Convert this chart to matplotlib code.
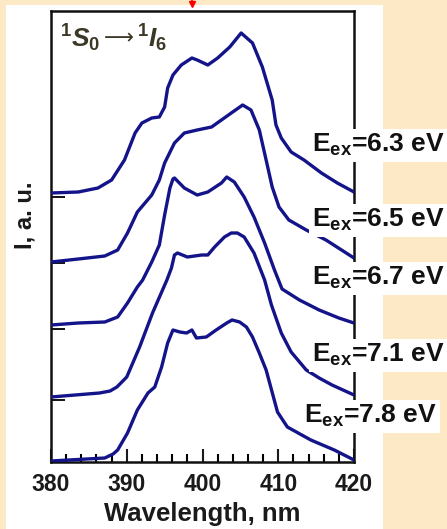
#!/usr/bin/env python3
"""
Luminescence spectra of the 1S0 -> 1I6 transition for several excitation
energies, stacked with a vertical offset.
"""
import matplotlib
matplotlib.use("Agg")
import matplotlib.pyplot as plt
from matplotlib.patches import Rectangle
from matplotlib.lines import Line2D
from matplotlib.ticker import MultipleLocator

# excitation energies (eV), top to bottom
energies = ["6.3", "6.5", "6.7", "7.1", "7.8"]

# vertical offset of every spectrum (a. u.)
offsets = [265, 199, 133, 62, 0]

# spectra: wavelength (nm) and intensity above baseline
wl_63 = [380, 383.6, 386.2, 388.0, 389.7, 391.1, 392.0, 393.3, 394.3, 395.0,
         395.4, 396.1, 397.2, 398.6, 399.3, 400.7, 402.0, 403.6, 405.1, 406.6,
         407.9, 409.2, 409.7, 410.4, 411.7, 413.4, 415.7, 417.8, 420]
i_63 = [4, 5, 9, 17, 37, 64, 74, 79, 80, 90,
        109, 122, 132, 139, 137, 132, 139, 150, 164, 154,
        130, 97, 72, 59, 45, 37, 24, 14, 5]

wl_65 = [380, 383.6, 387.1, 388.8, 390.1, 391.4, 393.3, 394.3, 395.0, 396.3,
         397.6, 399.3, 401.2, 402.5, 403.8, 405.3, 406.4, 407.5, 408.4, 409.2,
         410.1, 411.4, 413.7, 416.3, 420]
i_65 = [1, 4, 7, 13, 30, 51, 68, 83, 100, 120,
        130, 133, 136, 143, 150, 158, 153, 133, 103, 76,
        56, 43, 33, 23, 5]

wl_67 = [380, 383.6, 387.1, 388.8, 390.1, 391.4, 392.1, 393.3, 394.3, 395.0,
         395.7, 396.1, 396.3, 397.6, 399.3, 400.7, 402.5, 403.2, 404.2, 405.5,
         406.8, 408.2, 409.5, 410.5, 412.8, 415.4, 418.0, 420]
i_67 = [4, 6, 7, 12, 26, 42, 49, 67, 84, 114,
        141, 150, 151, 141, 134, 137, 146, 152, 147, 132,
        112, 86, 59, 40, 29, 19, 11, 6]

wl_71 = [380, 386.4, 387.8, 388.7, 390.0, 391.7, 393.4, 395.3, 395.9, 396.3,
         396.7, 398.0, 399.9, 400.7, 401.6, 402.9, 403.8, 404.6, 405.5, 406.8,
         408.2, 409.1, 410.4, 411.7, 413.7, 415.4, 417.1, 420]
i_71 = [3, 7, 9, 13, 23, 53, 87, 120, 132, 145,
        147, 143, 145, 145, 153, 163, 167, 167, 163, 147,
        120, 95, 67, 48, 30, 22, 15, 5]

wl_78 = [380, 387.1, 388.2, 388.8, 390.1, 391.4, 392.8, 393.7, 394.6, 395.4,
         396.1, 397.0, 397.9, 398.6, 399.2, 400.5, 401.8, 403.2, 403.9, 404.9,
         405.8, 406.6, 407.5, 408.4, 409.9, 411.2, 414.3, 417.4, 420]
i_78 = [1, 4, 8, 12, 29, 52, 69, 75, 95, 119,
        132, 130, 129, 132, 124, 125, 132, 139, 142, 140,
        135, 125, 109, 92, 50, 35, 22, 12, 2]

wavelengths = [wl_63, wl_65, wl_67, wl_71, wl_78]
intensities = [i_63, i_65, i_67, i_71, i_78]

# label baselines in figure pixels (from top) and right edges
label_base = [152, 227, 285, 362, 423]
label_right = [445, 445, 445, 445, 437]


def main():
    W, H = 447, 529
    plt.rcParams["font.family"] = ["Liberation Sans", "DejaVu Sans"]
    plt.rcParams["font.weight"] = "bold"
    plt.rcParams["mathtext.fontset"] = "custom"
    plt.rcParams["mathtext.rm"] = "Liberation Sans:bold"
    plt.rcParams["mathtext.it"] = "Liberation Sans:italic:bold"
    plt.rcParams["mathtext.bf"] = "Liberation Sans:bold"

    fig = plt.figure(figsize=(W / 100, H / 100), dpi=100, facecolor="#fde9c5")
    # white slide panel behind the chart
    fig.add_artist(Rectangle((6 / W, 0), 377 / W, 524 / H, transform=fig.transFigure,
                             facecolor="white", edgecolor="none", zorder=0))
    # little red pointer at the top edge
    fig.add_artist(Line2D([192 / W, 192 / W], [1.0, 1 - 4 / H], color="red", lw=1.2,
                          transform=fig.transFigure))
    fig.add_artist(Line2D([192 / W], [1 - 4 / H], marker="v", ms=4, color="red",
                          transform=fig.transFigure))

    ax = fig.add_axes([51 / W, 67 / H, 303 / W, 451 / H])
    ax.set_facecolor("white")

    for wl, inten, off in zip(wavelengths, intensities, offsets):
        ax.plot(wl, [v + off for v in inten], color="#14148a", lw=2.4,
                solid_joinstyle="round", zorder=3)

    ax.set_xlim(380, 420)
    ax.set_ylim(0, 451)
    ax.xaxis.set_major_locator(MultipleLocator(10))
    ax.xaxis.set_minor_locator(MultipleLocator(2))
    ax.set_yticks(offsets)
    ax.set_yticklabels([])
    ax.tick_params(axis="x", which="major", direction="in", length=9.5, width=1.5,
                   labelsize=16.5, pad=8, colors="#1a1a1a")
    ax.tick_params(axis="x", which="minor", direction="in", length=5.5, width=1.5)
    ax.tick_params(axis="y", direction="in", length=10, width=1.3)
    for lab in ax.get_xticklabels():
        lab.set_fontweight("bold")
    for sp in ax.spines.values():
        sp.set_linewidth(1.8)
        sp.set_color("#111111")

    ax.set_xlabel("Wavelength, nm", fontsize=18.5, fontweight="bold", color="#1a1a1a",
                  labelpad=4)
    fig.text(25 / W, 1 - 215 / H, "I, a. u.", rotation=90, fontsize=17,
             fontweight="bold", ha="center", va="center", color="#1a1a1a")

    # transition label: 1S0 -> 1I6
    title_col = "#3c3826"
    fig.text(60 / W, 1 - 47 / H, r"${}^{1}S_{0}$", fontsize=19, color=title_col,
             ha="left", va="baseline")
    fig.text(104 / W, 1 - 44 / H, "\u27f6", fontsize=15, color=title_col,
             family="DejaVu Sans", fontweight="normal", ha="left", va="baseline")
    fig.text(137 / W, 1 - 47 / H, r"${}^{1}I_{6}$", fontsize=19, color=title_col,
             ha="left", va="baseline")

    for e, yb, xr in zip(energies, label_base, label_right):
        fig.text(xr / W, 1 - yb / H, r"E$_{\mathrm{ex}}$=" + e + " eV", fontsize=19,
                 fontweight="bold", ha="right", va="baseline", color="#111111",
                 bbox=dict(facecolor="white", edgecolor="none", pad=2.5), zorder=5)

    fig.savefig("out.png", dpi=100, facecolor=fig.get_facecolor())


if __name__ == "__main__":
    main()
